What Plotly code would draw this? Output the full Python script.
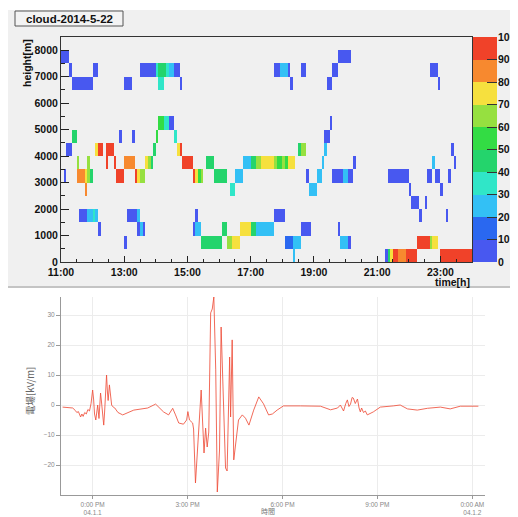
import numpy as np
import plotly.graph_objects as go

# ---------------- DATA ----------------
# Cloud heatmap: 5-minute time bins from 11:00, 500 m height bins.
# each entry: (start minute after 11:00, end minute, class)
CLASS_VALUE = {'B': 5, 'b': 15, 'L': 25, 'C': 35, 'G': 45, 'g': 55,
               'l': 65, 'Y': 75, 'O': 85, 'R': 95}
row_7500 = [(0, 15, 'B'), (525, 550, 'B')]
row_7000 = [(15, 20, 'B'), (60, 70, 'B'), (150, 180, 'B'), (180, 185, 'C'), (185, 200, 'G'),
            (200, 205, 'C'), (205, 215, 'L'), (215, 225, 'B'), (405, 415, 'B'), (415, 430, 'L'),
            (430, 435, 'B'), (455, 465, 'B'), (515, 525, 'B'), (700, 715, 'B')]
row_6500 = [(20, 60, 'B'), (120, 135, 'B'), (185, 195, 'C'), (225, 230, 'B'), (435, 440, 'B'),
            (505, 515, 'B'), (715, 720, 'B')]
row_5000 = [(185, 195, 'g'), (195, 205, 'C'), (205, 215, 'B'), (510, 515, 'B')]
row_4500 = [(20, 30, 'G'), (110, 115, 'B'), (135, 140, 'B'), (180, 185, 'g'), (215, 220, 'C'),
            (500, 510, 'B')]
row_4000 = [(10, 20, 'B'), (65, 70, 'Y'), (70, 80, 'R'), (85, 100, 'R'), (175, 180, 'G'),
            (220, 225, 'Y'), (225, 230, 'R'), (450, 455, 'G'), (455, 465, 'l'), (500, 505, 'L'),
            (740, 745, 'B')]
row_3500 = [(30, 35, 'l'), (50, 55, 'l'), (85, 90, 'R'), (100, 105, 'R'), (120, 140, 'O'),
            (160, 165, 'Y'), (165, 170, 'l'), (170, 175, 'G'), (230, 250, 'R'), (275, 290, 'G'),
            (345, 360, 'L'), (360, 370, 'G'), (370, 380, 'l'), (380, 405, 'Y'), (405, 410, 'l'),
            (410, 420, 'g'), (420, 425, 'l'), (425, 430, 'g'), (430, 445, 'Y'), (495, 500, 'L'),
            (555, 560, 'B'), (705, 710, 'L'), (745, 750, 'B')]
row_3000 = [(5, 10, 'B'), (30, 45, 'O'), (45, 50, 'Y'), (50, 55, 'l'), (55, 60, 'G'),
            (105, 120, 'R'), (140, 145, 'R'), (145, 150, 'Y'), (150, 160, 'l'), (250, 255, 'R'),
            (255, 260, 'Y'), (260, 265, 'g'), (265, 270, 'l'), (290, 315, 'G'), (330, 345, 'L'),
            (465, 470, 'B'), (485, 495, 'L'), (515, 535, 'B'), (535, 545, 'L'), (545, 555, 'B'),
            (620, 660, 'B'), (695, 705, 'B'), (710, 720, 'B'), (735, 740, 'B')]
row_2500 = [(45, 50, 'O'), (320, 330, 'C'), (470, 485, 'L'), (660, 665, 'B'), (720, 725, 'B')]
row_2000 = [(665, 680, 'B'), (690, 695, 'B')]
row_1500 = [(35, 50, 'B'), (50, 60, 'L'), (60, 65, 'C'), (65, 70, 'L'), (125, 145, 'B'),
            (145, 150, 'L'), (255, 260, 'B'), (405, 425, 'B'), (680, 685, 'B'), (730, 735, 'B')]
row_1000 = [(70, 75, 'B'), (145, 150, 'B'), (150, 155, 'L'), (155, 160, 'B'), (250, 255, 'B'),
            (255, 265, 'L'), (305, 315, 'G'), (340, 360, 'Y'), (360, 370, 'G'), (370, 405, 'L'),
            (455, 475, 'B'), (525, 530, 'B')]
row_500 = [(120, 125, 'B'), (265, 305, 'G'), (315, 325, 'l'), (325, 340, 'Y'), (425, 440, 'b'),
           (440, 455, 'L'), (530, 545, 'L'), (545, 550, 'B'), (675, 700, 'R'), (700, 705, 'l'),
           (705, 715, 'Y')]
row_0 = [(440, 445, 'L'), (615, 620, 'B'), (620, 625, 'G'), (625, 630, 'Y'), (630, 640, 'R'),
         (640, 655, 'O'), (655, 675, 'R'), (720, 780, 'R')]
ROWS = {7500: row_7500, 7000: row_7000, 6500: row_6500, 5000: row_5000, 4500: row_4500,
        4000: row_4000, 3500: row_3500, 3000: row_3000, 2500: row_2500, 2000: row_2000,
        1500: row_1500, 1000: row_1000, 500: row_500, 0: row_0}

palette = ["#4858f0", "#2a68f0", "#33c0f5", "#30e6c8", "#24d46c",
           "#33dc44", "#96e040", "#f6e03e", "#f7892f", "#f04229"]
cbar_levels = [5, 15, 25, 35, 45, 55, 65, 75, 85, 95]
cbar_ticks = [0, 10, 20, 30, 40, 50, 60, 70, 80, 90, 100]
x_ticks_top = [11, 13, 15, 17, 19, 21, 23]
x_labels_top = ["11:00", "13:00", "15:00", "17:00", "19:00", "21:00", "23:00"]
y_ticks_top = [0, 1000, 2000, 3000, 4000, 5000, 6000, 7000, 8000]

# Electric field (hours, kV/m)
ef_time = [11.05, 11.2, 11.37, 11.45, 11.5, 11.55, 11.6, 11.62, 11.66, 11.7, 11.75, 11.8, 11.85,
           11.9, 11.95, 12.0, 12.03, 12.06, 12.1, 12.13, 12.16, 12.2, 12.25, 12.28, 12.31, 12.35,
           12.38, 12.41, 12.44, 12.47, 12.49, 12.53, 12.57, 12.6, 12.63, 12.7, 12.8, 12.95, 13.3,
           13.74, 13.99, 14.24, 14.4, 14.53, 14.62, 14.72, 14.87, 14.97, 15.01, 15.06, 15.16,
           15.19, 15.25, 15.32, 15.43, 15.52, 15.57, 15.62, 15.67, 15.73, 15.78, 15.83, 15.89,
           15.94, 16.01, 16.06, 16.12, 16.2, 16.25, 16.33, 16.36, 16.41, 16.46, 16.55, 16.61,
           16.73, 16.83, 16.94, 17.09, 17.25, 17.4, 17.56, 17.68, 17.83, 18.03, 18.57, 19.2,
           19.52, 19.74, 19.83, 19.93, 20.0, 20.05, 20.1, 20.15, 20.2, 20.24, 20.3, 20.37, 20.42,
           20.46, 20.5, 20.56, 20.62, 20.68, 20.87, 21.09, 21.5, 21.72, 21.95, 22.26, 22.58,
           22.99, 23.3, 23.62, 24.19]
ef_value = [-0.7, -0.8, -1.0, -1.8, -2.5, -2.2, -3.5, -4.0, -3.0, -3.8, -2.5, -3.0, -1.5,
            -2.0, 0.5, 5.0, 2.0, -3.0, -5.0, -2.0, 0.0, -4.5, 4.0, 1.0, -3.0, -6.7,
            -2.0, 3.0, 10.0, 4.0, 1.5, 6.7, 1.0, 0.0, -0.5, -1.0, -2.5, -3.3, -1.7,
            -1.0, 0.3, -2.3, -3.3, -1.1, -3.3, -6.0, -6.4, -5.0, -2.2, -5.0, -6.0,
            -8.0, -26.0, -15.0, 5.0, -16.0, -7.7, -14.0, -9.0, 30.7, 32.0, 36.0, 11.7,
            -29.0, -15.0, 26.0, 6.7, -21.0, -22.0, 16.0, -4.0, 21.7, -18.3, -9.0, -5.0,
            -3.3, -4.4, -6.7, -1.7, 2.7, 0.4, -3.3, -3.0, -1.7, -0.3, -0.3, -0.4,
            -1.6, -1.0, 0.0, -2.0, 0.5, 1.7, -0.5, 0.3, 2.5, 2.3, 0.5, 2.0, -1.0,
            -2.3, -1.0, -2.5, -2.0, -3.3, -2.3, -0.7, -0.3, 0.0, -1.3, -1.7, -1.1,
            -0.7, -1.3, -0.4, -0.4]
x_ticks_bot = [12, 15, 18, 21, 24]
x_labels_bot = ["0:00 PM<br>04.1.1", "3:00 PM", "6:00 PM", "9:00 PM", "0:00 AM<br>04.1.2"]
y_ticks_bot = [-20, -10, 0, 10, 20, 30]

# ---------------- BUILD GRID ----------------
n_t = 13 * 12
n_h = 17
x_edges = 11 + np.arange(n_t + 1) * 5 / 60.0
y_edges = np.arange(n_h + 1) * 500.0
z = np.full((n_h, n_t), np.nan)
for base, segs in ROWS.items():
    r = int(base // 500)
    for s, e, c in segs:
        z[r, s // 5:e // 5] = CLASS_VALUE[c]

cscale = []
for i, c in enumerate(palette):
    cscale.append([i / 10, c])
    cscale.append([(i + 1) / 10, c])

# ---------------- LAYOUT HELPERS ----------------
# page body has an 8 px margin, so the figure starts at window pixel (8, 8)
OFF = 8
W, H = 518 - OFF, 517 - OFF
L, R, T, B = 61 - OFF, 0, 37 - OFF, 22
PW, PH = W - L - R, H - T - B
def px(x):
    return (x - OFF - L) / PW
def py(y):
    return (H - B - (y - OFF)) / PH

FONT = "Liberation Sans, Arial, sans-serif"
BOLD = dict(family=FONT, size=10.5, color="#111", weight="bold")

fig = go.Figure()
fig.add_trace(go.Heatmap(
    x=x_edges, y=y_edges, z=z, zmin=0, zmax=100, colorscale=cscale,
    xaxis="x", yaxis="y", hoverongaps=False, showscale=False,
))
# palette bar (drawn as its own small heatmap)
fig.add_trace(go.Heatmap(
    x=[0, 1], y=cbar_ticks, z=[[v] for v in cbar_levels], zmin=0, zmax=100,
    colorscale=cscale, xaxis="x3", yaxis="y3", showscale=False,
))
fig.add_trace(go.Scatter(
    x=ef_time, y=ef_value, mode="lines", xaxis="x2", yaxis="y2",
    line=dict(color="rgba(238,80,60,0.85)", width=1), showlegend=False,
))

fig.update_layout(
    width=W, height=H, margin=dict(l=L, r=R, t=T, b=B, autoexpand=False),
    paper_bgcolor="white", plot_bgcolor="rgba(0,0,0,0)", showlegend=False,
    font=dict(family=FONT),
    xaxis=dict(domain=[0, px(472)], range=[11, 24], anchor="y", automargin=False,
               tickvals=x_ticks_top, ticktext=x_labels_top, ticks="inside", ticklen=6,
               tickcolor="#222", showline=True, linecolor="#333", linewidth=1, mirror=True,
               showgrid=False, zeroline=False,
               minor=dict(dtick=0.5, tick0=11, ticks="inside", ticklen=3, tickcolor="#222"),
               tickfont=BOLD),
    yaxis=dict(domain=[py(262), py(37)], range=[0, 8500], anchor="x", automargin=False,
               tickvals=y_ticks_top, ticks="inside", ticklen=8, tickcolor="#222",
               showline=True, linecolor="#333", linewidth=1, mirror=True,
               showgrid=False, zeroline=False,
               minor=dict(dtick=500, tick0=0, ticks="inside", ticklen=4, tickcolor="#222"),
               tickfont=BOLD),
    xaxis3=dict(domain=[px(473), px(497)], range=[0, 1], anchor="y3", automargin=False,
                visible=False, showgrid=False, zeroline=False),
    yaxis3=dict(domain=[py(262), py(37)], range=[0, 100], anchor="x3", side="right",
                automargin=False, tickvals=cbar_ticks, ticks="inside", ticklen=10,
                tickcolor="#333", showline=False, showgrid=False, zeroline=False,
                tickfont=BOLD),
    xaxis2=dict(domain=[0, px(485)], range=[11, 24.4], anchor="y2", automargin=False,
                tickvals=x_ticks_bot, ticktext=x_labels_bot, ticks="outside", ticklen=3,
                tickcolor="#999", showline=True, linecolor="#999", linewidth=1,
                showgrid=True, gridcolor="#ececec", zeroline=False,
                tickfont=dict(family=FONT, size=6.5, color="#888")),
    yaxis2=dict(domain=[0, py(297)], range=[-30, 36], anchor="x2", automargin=False,
                tickvals=y_ticks_bot, ticks="outside", ticklen=4, tickcolor="#999",
                showline=True, linecolor="#999", linewidth=1,
                showgrid=True, gridcolor="#ececec", zeroline=False,
                tickfont=dict(family=FONT, size=6.5, color="#888")),
    shapes=[
        dict(type="rect", xref="paper", yref="paper", x0=px(8), x1=px(518), y0=py(288), y1=py(10),
             fillcolor="#f0f0f0", line=dict(width=0), layer="below"),
        dict(type="line", xref="paper", yref="paper", x0=px(8), x1=px(518), y0=py(287), y1=py(287),
             line=dict(color="#c4c4c4", width=2), layer="below"),
        dict(type="rect", xref="paper", yref="paper", x0=px(15), x1=px(123), y0=py(26), y1=py(11),
             fillcolor="#f3f3f3", line=dict(color="#555", width=1), layer="below"),
    ],
    annotations=[
        dict(text="<b>cloud-2014-5-22</b>", xref="paper", yref="paper", x=px(69), y=py(18.5),
             xanchor="center", yanchor="middle", showarrow=False,
             font=dict(family=FONT, size=11.5, color="#111")),
        dict(text="<b>height[m]</b>", xref="paper", yref="paper", x=px(27), y=py(37),
             xanchor="center", yanchor="top", textangle=-90, showarrow=False,
             font=dict(family=FONT, size=10.5, color="#111")),
        dict(text="<b>time[h]</b>", xref="paper", yref="paper", x=px(472), y=py(282),
             xanchor="right", yanchor="middle", showarrow=False,
             font=dict(family=FONT, size=10.5, color="#111")),
        dict(text="時間", xref="paper", yref="paper", x=px(268), y=py(511),
             xanchor="center", yanchor="middle", showarrow=False,
             font=dict(family="Noto Sans CJK JP", size=7, color="#777")),
        dict(text="電場[kV/m]", xref="paper", yref="paper", x=px(30), y=py(391),
             xanchor="center", yanchor="middle", textangle=-90, showarrow=False,
             font=dict(family="Noto Sans CJK JP", size=9.5, color="#666")),
    ],
)

fig.write_html("out.html")
